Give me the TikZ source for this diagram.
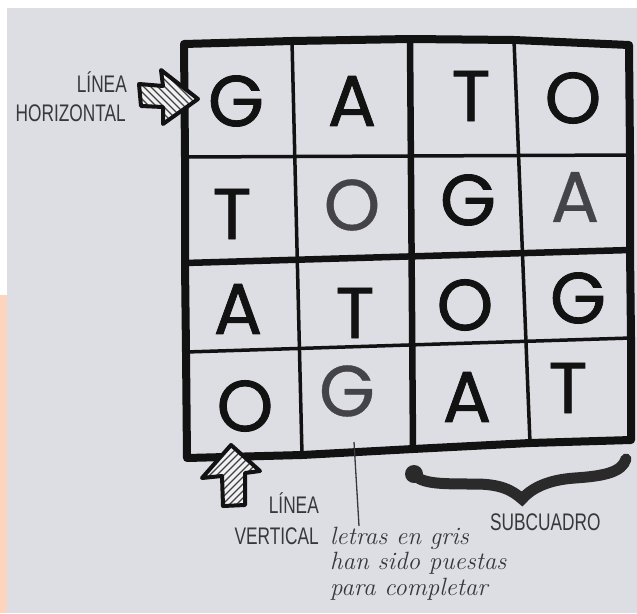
\documentclass[tikz,border=0pt]{standalone}
\usepackage{fontspec}
\newfontfamily\gridfont[FakeBold=1.1]{Poppins}
\newfontfamily\grayfont[FakeBold=0.5]{Poppins}
\newfontfamily\labelfont[FakeStretch=0.72]{Liberation Sans}
\definecolor{paper}{RGB}{221,221,228}
\definecolor{peach}{RGB}{253,213,190}
\definecolor{ink}{RGB}{18,18,18}
\definecolor{grayink}{RGB}{68,68,72}
\definecolor{labelink}{RGB}{55,55,60}
\tikzset{
  outerline/.style={draw=ink, line width=8pt, line join=round, line cap=round},
  thickline/.style={draw=ink, line width=6.5pt, line cap=round},
  thinline/.style={draw=ink, line width=3.5pt, line cap=round},
  letter/.style={inner sep=0pt, text=ink, font=\gridfont\fontsize{72}{72}\selectfont},
  grayletter/.style={inner sep=0pt, text=grayink, font=\grayfont\fontsize{72}{72}\selectfont},
  lab/.style={inner sep=0pt, text=labelink, font=\labelfont\fontsize{24}{24}\selectfont},
  cursive/.style={inner sep=0pt, text=labelink, font=\itshape\fontsize{25}{25}\selectfont},
  arrowline/.style={draw=ink, line width=4pt, line join=round},
  hatch/.style={draw=ink!80, line width=1.2pt},
  bracestroke/.style={draw=ink!90, line width=11pt, line cap=round},
  pointer/.style={draw=labelink, line width=1.3pt}
}
\begin{document}
\begin{tikzpicture}[x=1pt,y=-1pt]
\useasboundingbox (0,0) rectangle (637,613);
% background
\fill[white] (0,0) rectangle (637,613);
\fill[paper] (7,8) rectangle (637,613);
\fill[peach] (0,295) rectangle (7,613);

% grid coordinates
\coordinate (vt0) at (184,44);
\coordinate (vt1) at (292,41);
\coordinate (vt2) at (410,39);
\coordinate (vt3) at (514,40);
\coordinate (vt4) at (629,45);
\coordinate (vb0) at (187,458);
\coordinate (vb1) at (302,455);
\coordinate (vb2) at (413,449);
\coordinate (vb3) at (530,443);
\coordinate (vb4) at (631,440);
\coordinate (hl1) at (185,157);
\coordinate (hl2) at (185,263);
\coordinate (hl3) at (186,352);
\coordinate (hr1) at (630,155);
\coordinate (hr2) at (630,250);
\coordinate (hr3) at (631,338);

% inner lines
\draw[thinline] (vt1) -- (vb1);
\draw[thinline] (vt3) -- (vb3);
\draw[thinline] (hl1) -- (hr1);
\draw[thinline] (hl3) -- (hr3);
\draw[thickline] (vt2) -- (vb2);
\draw[thickline] (hl2) -- (hr2);
% outer border
\draw[outerline] (vt0) -- (vt1) -- (vt2) -- (vt3) -- (vt4) -- (hr1) -- (hr2) -- (hr3) -- (vb4)
  -- (vb3) -- (vb2) -- (vb1) -- (vb0) -- (hl3) -- (hl2) -- (hl1) -- cycle;

% letters
\node[letter] (c11) at (236,101) {G};
\node[letter] (c12) at (352,101) {A};
\node[letter] (c13) at (471,96) {T};
\node[letter] (c14) at (573,98) {O};
\node[letter] (c21) at (232,214) {T};
\node[grayletter] (c22) at (352,205) {O};
\node[letter] (c23) at (468,200) {G};
\node[grayletter] (c24) at (575,197) {A};
\node[letter] (c31) at (238,309) {A};
\node[letter] (c32) at (355,313) {T};
\node[letter] (c33) at (465,305) {O};
\node[letter] (c34) at (578,298) {G};
\node[letter] (c41) at (245,406) {O};
\node[grayletter] (c42) at (347,391) {G};
\node[letter] (c43) at (467,397) {A};
\node[letter] (c44) at (568,388) {T};

% horizontal arrow
\fill[white!60!paper] (139,84) -- (163,86) -- (161,70) -- (198,99) -- (163,124) -- (163,107) -- (141,106) -- cycle;
\begin{scope}
  \clip (139,84) -- (163,86) -- (161,70) -- (198,99) -- (163,124) -- (163,107) -- (141,106) -- cycle;
  \foreach \d in {-70,-63,...,70} \draw[hatch] ({168+\d-45},52) -- ({168+\d+45},142);
\end{scope}
\draw[arrowline] (139,84) -- (163,86) -- (161,70) -- (198,99) -- (163,124) -- (163,107) -- (141,106) -- cycle;

% vertical arrow
\fill[white!60!paper] (231,445) -- (260,471) -- (245,473) -- (245,505) -- (223,506) -- (222,476) -- (202,478) -- cycle;
\begin{scope}
  \clip (231,445) -- (260,471) -- (245,473) -- (245,505) -- (223,506) -- (222,476) -- (202,478) -- cycle;
  \foreach \d in {-70,-63,...,70} \draw[hatch] ({231+\d-45},520) -- ({231+\d+45},430);
\end{scope}
\draw[arrowline] (231,445) -- (260,471) -- (245,473) -- (245,505) -- (223,506) -- (222,476) -- (202,478) -- cycle;

% labels
\node[lab, anchor=base east] (lh1) at (127,92) {LÍNEA};
\node[lab, anchor=base east] (lh2) at (126,121) {HORIZONTAL};
\node[lab, anchor=base east] (lv1) at (319,513) {LÍNEA};
\node[lab, anchor=base east] (lv2) at (319,544) {VERTICAL};
\node[lab, anchor=base west] (sub) at (490,530) {SUBCUADRO};

% cursive note
\node[cursive, anchor=base west] (n1) at (330,544) {letras en gris};
\node[cursive, anchor=base west] (n2) at (330,569) {han sido puestas};
\node[cursive, anchor=base west] (n3) at (330,595) {para completar};
\coordinate (ptop) at (354,442);
\coordinate (pbot) at (359,526);
\draw[pointer] (ptop) -- (pbot);

% brace
\coordinate (bl) at (413,473);
\coordinate (bm) at (522,499);
\coordinate (br) at (626,459);
\fill[ink!90] (414,474) circle (9);
\draw[bracestroke] (bl) .. controls (420,484) and (440,484) .. (475,484)
  .. controls (500,484) and (512,490) .. (bm)
  .. controls (530,490) and (545,480) .. (575,478)
  .. controls (605,476) and (622,472) .. (br);
\end{tikzpicture}
\end{document}
